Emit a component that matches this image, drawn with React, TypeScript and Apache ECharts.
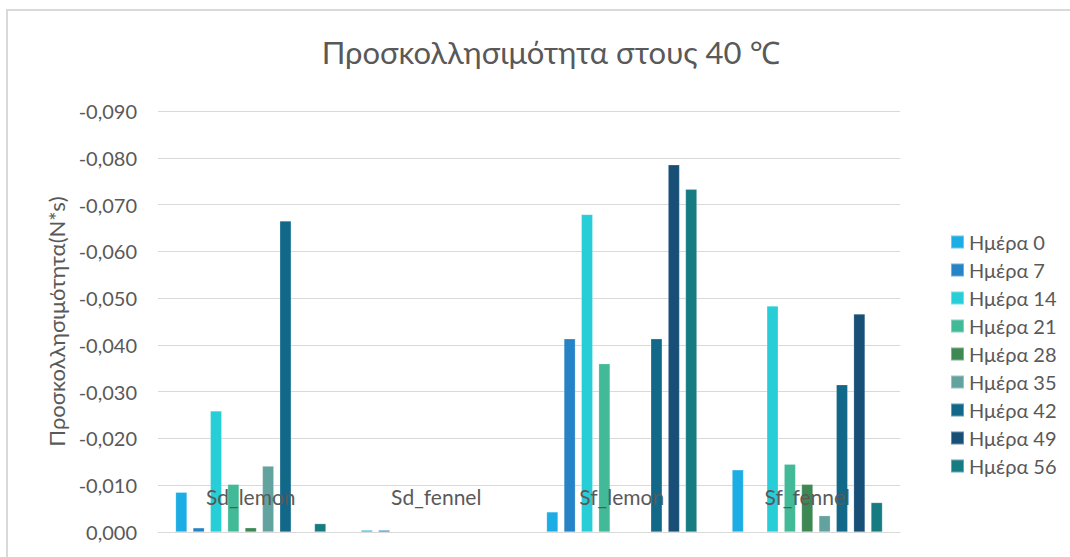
import React, { useEffect, useRef } from "react";
import * as echarts from "echarts";

// Samples on the category axis
const categories = ["Sd_lemon", "Sd_fennel", "Sf_lemon", "Sf_fennel"];

// Storage days shown as separate series
const dayNames = [
  "Ημέρα 0",
  "Ημέρα 7",
  "Ημέρα 14",
  "Ημέρα 21",
  "Ημέρα 28",
  "Ημέρα 35",
  "Ημέρα 42",
  "Ημέρα 49",
  "Ημέρα 56",
];

// Adhesiveness (N*s) per day, one value per sample in category order
const day0 = [-0.0085, -0.0004, -0.0043, -0.0133];
const day7 = [-0.0009, -0.0004, -0.0413, 0];
const day14 = [-0.0259, 0, -0.0679, -0.0483];
const day21 = [-0.0102, 0, -0.036, -0.0145];
const day28 = [-0.0009, 0, 0, -0.0102];
const day35 = [-0.0141, 0, 0, -0.0035];
const day42 = [-0.0665, 0, -0.0413, -0.0315];
const day49 = [0, 0, -0.0785, -0.0466];
const day56 = [-0.0018, 0, -0.0733, -0.0063];

const dayValues = [day0, day7, day14, day21, day28, day35, day42, day49, day56];

const dayColors = [
  "#1CADE4",
  "#2683C6",
  "#27CED7",
  "#42BA97",
  "#3E8853",
  "#62A39F",
  "#116889",
  "#174F77",
  "#177C81",
];

const FONT = "Lato, 'Noto Sans', sans-serif";
const TEXT = "#595959";
const GRID = "#d9d9d9";

export default function App() {
  const ref = useRef<HTMLDivElement>(null);

  useEffect(() => {
    if (!ref.current) return;
    const chart = echarts.init(ref.current, null, { renderer: "svg" });

    const series = dayNames.map((name, i) => ({
      name,
      type: "bar" as const,
      data: dayValues[i],
      barWidth: 11.5,
      barGap: "51%",
      itemStyle: {
        color: dayColors[i],
        borderColor: "rgba(255,255,255,0.35)",
        borderWidth: 0.6,
      },
    }));

    chart.setOption({
      animation: false,
      backgroundColor: "#ffffff",
      textStyle: { fontFamily: FONT, color: TEXT },
      title: {
        text: "Προσκολλησιμότητα στους 40 ℃",
        left: 546,
        top: 31,
        textAlign: "center",
        textStyle: {
          fontFamily: FONT,
          fontSize: 31,
          fontWeight: "normal",
          color: TEXT,
        },
      },
      graphic: [
        {
          type: "rect",
          shape: { x: 7, y: 10, width: 1200, height: 700 },
          style: { fill: "none", stroke: GRID, lineWidth: 2 },
          silent: true,
        },
      ],
      legend: {
        orient: "vertical",
        left: 945,
        top: 227,
        itemWidth: 13,
        itemHeight: 13,
        itemGap: 8,
        icon: "rect",
        textStyle: { fontFamily: FONT, fontSize: 20, color: TEXT },
        data: dayNames,
      },
      grid: { left: 158, right: 170, top: 111, bottom: 25 },
      xAxis: {
        type: "category",
        data: categories,
        z: 10,
        axisLine: { onZero: false, lineStyle: { color: GRID, width: 1 } },
        axisTick: { show: false },
        axisLabel: {
          margin: -46,
          fontSize: 21,
          color: TEXT,
          fontFamily: FONT,
        },
        splitLine: { show: false },
      },
      yAxis: {
        type: "value",
        inverse: true,
        min: -0.09,
        max: 0,
        interval: 0.01,
        name: "Προσκολλησιμότητα(N*s)",
        nameLocation: "middle",
        nameGap: 88,
        nameRotate: 90,
        nameTextStyle: { fontFamily: FONT, fontSize: 22, color: TEXT },
        axisLine: { show: false },
        axisTick: { show: false },
        axisLabel: {
          margin: 21,
          fontSize: 20,
          color: TEXT,
          fontFamily: FONT,
          formatter: (v: number) => v.toFixed(3).replace(".", ","),
        },
        splitLine: { lineStyle: { color: GRID, width: 1 } },
      },
      series,
    });

    return () => chart.dispose();
  }, []);

  return (
    <div
      ref={ref}
      style={{ position: "fixed", left: 0, top: 0, width: 1070, height: 557 }}
    />
  );
}
